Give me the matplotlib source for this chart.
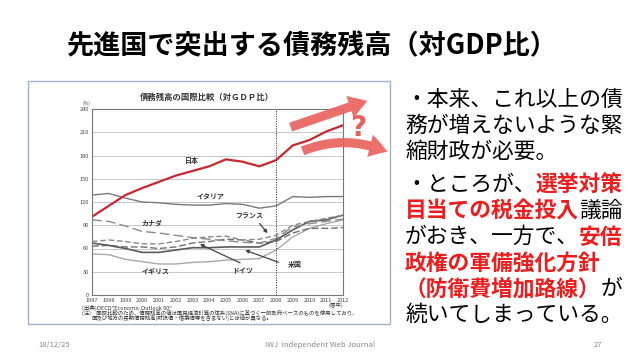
import matplotlib
matplotlib.use("Agg")
import matplotlib.pyplot as plt
from matplotlib.patches import FancyArrowPatch, Rectangle

plt.rcParams["font.family"] = ["Noto Sans CJK JP", "DejaVu Sans"]

# data (% of GDP)
years = list(range(1997, 2013))
japan = [101, 115, 129, 138, 146, 154, 160, 166, 175, 172, 166, 174, 193, 200, 211, 219]
italy = [129, 131, 125, 120, 119, 117, 116, 116, 118, 117, 112, 115, 127, 126, 127, 127]
canada = [97, 95, 89, 82, 80, 77, 74, 72, 70, 68, 67, 73, 88, 92, 95, 98]
france = [69, 71, 69, 66, 66, 69, 73, 75, 76, 71, 72, 77, 90, 95, 99, 103]
usa = [67, 64, 60, 55, 55, 58, 61, 61, 62, 62, 62, 71, 84, 95, 97, 103]
germany = [63, 64, 62, 62, 60, 62, 67, 69, 72, 71, 67, 69, 80, 86, 86, 87]
uk = [53, 52, 46, 43, 40, 40, 42, 43, 45, 46, 47, 58, 75, 86, 92, 97]
yticks = [0, 30, 60, 90, 120, 150, 180, 210, 240]

W, H = 640, 360
fig = plt.figure(figsize=(6.4, 3.6), dpi=100)
fig.patch.set_facecolor("white")


def fx(px):
    return px / W


def fy(py):
    return 1 - py / H


# slide title
fig.text(fx(312), fy(46), "先進国で突出する債務残高（対GDP比）", fontsize=19.5,
         fontweight="bold", ha="center", va="center")

# frame around the pasted chart
fig.patches.append(Rectangle((fx(28), fy(324)), fx(362), (324 - 81) / H,
                             transform=fig.transFigure, fill=False,
                             edgecolor="#9fb4cc", lw=1))

# chart
ax = fig.add_axes([fx(92), fy(295), fx(251), (295 - 109) / H])
ax.plot(years, uk, color="#a8a8a8", lw=1)
ax.plot(years, germany, color="#707070", lw=1, dashes=(5, 2))
ax.plot(years, usa, color="#5a5a5a", lw=1.2)
ax.plot(years, france, color="#8a8a8a", lw=1, dashes=(4, 2))
ax.plot(years, canada, color="#8a8a8a", lw=1, dashes=(7, 3))
ax.plot(years, italy, color="#7a7a7a", lw=1)
ax.plot(years, japan, color="#c8282d", lw=1.6)
ax.axvline(2008, color="#444444", lw=0.8, ls=(0, (1, 1.2)))

ax.set_xlim(1997, 2012)
ax.set_ylim(0, 240)
ax.set_yticks(yticks)
ax.set_xticks(years)
ax.tick_params(labelsize=4, length=0, pad=2.5, colors="#444444")
ax.grid(axis="y", color="#c8c8c8", lw=0.7)
for s in ax.spines.values():
    s.set_color("#777777")
    s.set_linewidth(0.8)

lab = dict(fontsize=5, fontweight="bold", color="#333333", ha="center", va="center")
ax.text(2003.0, 173, "日本", **lab)
ax.text(2004.1, 126, "イタリア", **lab)
ax.text(2000.6, 93, "カナダ", **lab)
ax.text(2006.4, 103, "フランス", **lab)
ax.text(2000.8, 31, "イギリス", **lab)
ax.text(2006.0, 31, "ドイツ", **lab)
ax.text(2009.1, 40, "米国", **lab)
arr = dict(arrowstyle="-|>", color="#444444", lw=0.9, mutation_scale=5)
ax.annotate("", xy=(2007.6, 77), xytext=(2006.9, 95), arrowprops=arr)
ax.annotate("", xy=(2006.0, 59), xytext=(2008.3, 41), arrowprops=arr)
ax.annotate("", xy=(2003.3, 67), xytext=(2006.0, 40), arrowprops=arr)

fig.text(fx(207), fy(97), "債務残高の国際比較（対ＧＤＰ比）", fontsize=6,
         fontweight="bold", color="#333333", ha="center", va="center")
fig.text(fx(86), fy(103), "(%)", fontsize=3.5, color="#444444", ha="center", va="center")
fig.text(fx(343), fy(305), "(暦年)", fontsize=4, color="#444444", ha="right", va="center")
fig.text(fx(82), fy(308), "(出典)OECD\"Economic Outlook 90\"", fontsize=4,
         color="#333333", ha="left", va="center")
fig.text(fx(82), fy(313), "(注)　国際比較のため、債務残高の値は国民経済計算の体系(SNA)に基づく一般政府ベースのものを使用しており、",
         fontsize=3.9, color="#333333", ha="left", va="center")
fig.text(fx(92), fy(318), "国及び地方の長期債務残高(財投債・借換債等を含まない)とは値が異なる。",
         fontsize=3.9, color="#333333", ha="left", va="center")

# red arrows and question mark
red = "#e9605c"
fig.patches.append(FancyArrowPatch((fx(288), fy(128)), (fx(370), fy(100)),
                                   transform=fig.transFigure,
                                   arrowstyle="simple,head_length=1.2,head_width=1.5,tail_width=0.6",
                                   mutation_scale=11, color=red, alpha=0.9, lw=0))
fig.patches.append(FancyArrowPatch((fx(300), fy(152)), (fx(390), fy(153)),
                                   transform=fig.transFigure,
                                   connectionstyle="arc3,rad=-0.22",
                                   arrowstyle="simple,head_length=1.2,head_width=1.5,tail_width=0.6",
                                   mutation_scale=11, color=red, alpha=0.9, lw=0))
fig.text(fx(358), fy(128), "?", fontsize=20, fontweight="bold", color=red,
         ha="center", va="center", family="DejaVu Sans")

# right-hand commentary
lines = [
    [("・本来、これ以上の債", "k")],
    [("務が増えないような緊", "k")],
    [("縮財政が必要。", "k")],
    [("・ところが、", "k"), ("選挙対策", "r")],
    [("目当ての税金投入", "r"), ("議論", "k")],
    [("がおき、一方で、", "k"), ("安倍", "r")],
    [("政権の軍備強化方針", "r")],
    [("（防衛費増加路線）", "r"), ("が", "k")],
    [("続いてしまっている。", "k")],
]
line_y = [100, 126, 152, 185, 211, 237, 263, 289, 315]
renderer = fig.canvas.get_renderer()
for segs, py in zip(lines, line_y):
    x = 405
    for txt, c in segs:
        if c == "r":
            t = fig.text(fx(x), fy(py), txt, fontsize=15.7, fontweight="bold",
                         color="#ee1c1c", ha="left", va="center")
        else:
            t = fig.text(fx(x), fy(py), txt, fontsize=15.7, color="black",
                         ha="left", va="center")
        x += t.get_window_extent(renderer=renderer).width

# footer
foot = dict(fontsize=5.5, color="#8a8a8a", va="center")
fig.text(fx(38), fy(345), "18/12/25", ha="left", **foot)
fig.text(fx(320), fy(345), "IWJ  Independent Web Journal", ha="center", **foot)
fig.text(fx(602), fy(345), "27", ha="right", **foot)

fig.savefig("out.png", dpi=100)
